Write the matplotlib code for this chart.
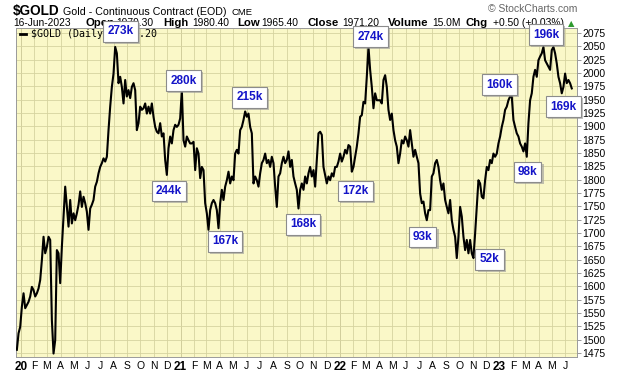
import numpy as np
import pandas as pd
import matplotlib
matplotlib.use('Agg')
import matplotlib.pyplot as plt
import matplotlib.patheffects as pe

plt.rcParams['font.family'] = ['Liberation Sans', 'DejaVu Sans']

# daily close readings, late Dec 2019 .. 16 Jun 2023 (evenly spaced samples)
prices_dec19_jan21 = [
    1481, 1512, 1524, 1562, 1587, 1559, 1565, 1571, 1581, 1599, 1593, 1581, 1587, 1596,
    1612, 1649, 1693, 1662, 1674, 1693, 1687, 1537, 1474, 1499, 1668, 1662, 1606, 1674,
    1731, 1787, 1749, 1712, 1762, 1718, 1737, 1724, 1737, 1753, 1778, 1749, 1768, 1756,
    1740, 1706, 1746, 1753, 1762, 1787, 1796, 1812, 1824, 1831, 1840, 1834, 1843, 1893,
    1937, 1974, 1999, 2049, 2037, 1981, 1993, 1974, 1943, 1987, 1956, 1968, 1953, 1974,
    1981, 1968, 1893, 1906, 1937, 1931, 1934, 1943, 1924, 1937, 1924, 1943, 1918, 1899,
    1890, 1887, 1906, 1881, 1887, 1837, 1809, 1859, 1881, 1868, 1893, 1903, 1899, 1903,
    1915, 1968, 1874, 1862, 1881, 1874,
]
prices_jan21_apr22 = [
    1868, 1868, 1871, 1818, 1859, 1849, 1803, 1824, 1818, 1756, 1737, 1706, 1743, 1756,
    1762, 1756, 1743, 1709, 1756, 1781, 1762, 1787, 1799, 1815, 1793, 1806, 1799, 1849,
    1856, 1849, 1893, 1899, 1912, 1928, 1918, 1924, 1899, 1887, 1793, 1806, 1799, 1787,
    1812, 1831, 1837, 1849, 1831, 1837, 1824, 1843, 1831, 1787, 1749, 1806, 1812, 1831,
    1843, 1831, 1837, 1853, 1824, 1837, 1806, 1793, 1781, 1746, 1781, 1793, 1781, 1806,
    1793, 1812, 1824, 1806, 1818, 1787, 1837, 1887, 1890, 1884, 1824, 1809, 1793, 1806,
    1799, 1812, 1806, 1824, 1824, 1834, 1849, 1834, 1843, 1856, 1849, 1865, 1862, 1815,
    1824, 1843, 1862, 1887, 1918, 1921, 1946, 1943, 1993, 2049, 2006, 1974, 1934, 1962,
    1949, 1949,
]
prices_apr22_jun23 = [
    1949, 1943, 1987, 1996, 1974, 1931, 1912, 1924, 1893, 1874, 1862, 1831, 1849, 1874,
    1868, 1881, 1874, 1862, 1893, 1868, 1843, 1856, 1843, 1831, 1774, 1756, 1759, 1737,
    1724, 1743, 1743, 1806, 1812, 1831, 1837, 1824, 1799, 1781, 1793, 1762, 1749, 1737,
    1762, 1724, 1706, 1693, 1653, 1693, 1749, 1731, 1693, 1668, 1687, 1662, 1687, 1662,
    1653, 1699, 1749, 1799, 1793, 1768, 1765, 1799, 1824, 1818, 1837, 1831, 1849, 1843,
    1849, 1868, 1881, 1899, 1912, 1931, 1937, 1949, 1956, 1956, 1912, 1899, 1887, 1881,
    1868, 1862, 1853, 1868, 1843, 1906, 1949, 1962, 1993, 2006, 1993, 2024, 2031, 2037,
    2049, 2024, 2018, 2012, 2006, 2043, 2049, 2037, 2018, 1993, 1981, 1962, 1974, 1999,
    1981, 1987, 1981, 1971.2,
]
first_day = '2019-12-23'
last_day = '2023-06-16'

# volume call-outs (left to right)
volume_notes = ['273k', '280k', '244k', '167k', '215k', '168k', '172k',
                '274k', '93k', '52k', '160k', '98k', '196k', '169k']

y_ticks = list(range(1475, 2076, 25))
month_letters = ['J', 'F', 'M', 'A', 'M', 'J', 'J', 'A', 'S', 'O', 'N', 'D']

quote_date = '16-Jun-2023'
q_open, q_high, q_low, q_close = '1979.30', '1980.40', '1965.40', '1971.20'
q_volume, q_chg = '15.0M', '+0.50 (+0.03%)'

prices = prices_dec19_jan21 + prices_jan21_apr22 + prices_apr22_jun23
dates = pd.date_range(first_day, last_day, periods=len(prices))

W, H = 620, 376
fig = plt.figure(figsize=(W / 100, H / 100), dpi=100)
ax = fig.add_axes([16 / W, 1 - 357 / H, (577 - 16) / W, (357 - 28) / H])
ax.set_facecolor('#faf8c8')

ax.plot(dates, prices, color='black', lw=1.5, solid_joinstyle='round', zorder=3)

ax.set_xlim(pd.Timestamp('2019-12-21'), pd.Timestamp('2023-06-28'))
ax.set_ylim(1467.5, 2084.5)

months = pd.date_range('2020-01-01', '2023-06-01', freq='MS')
ax.set_xticks(months)
ax.set_xticklabels([str(m.year)[2:] if m.month == 1 else month_letters[m.month - 1]
                    for m in months])
for lab, m in zip(ax.get_xticklabels(), months):
    if m.month == 1:
        lab.set_fontweight('bold')
        lab.set_fontsize(8.5)
    else:
        lab.set_fontsize(7.5)
ax.tick_params(axis='x', length=0, pad=3)

ax.yaxis.tick_right()
ax.set_yticks(y_ticks)
ax.tick_params(axis='y', length=3, width=0.6, color='#888888', labelsize=7.5, pad=1)

ax.grid(True, color='#d6d3a0', lw=0.6, zorder=0)
for m in months[months.month == 1]:
    ax.axvline(m, color='#bab686', lw=0.7, zorder=1)
for sp in ax.spines.values():
    sp.set_color('#9a9a9a')
    sp.set_linewidth(0.7)


def put(x, y, s, **kw):
    return fig.text(x / W, 1 - y / H, s, **kw)


# header
put(13, 15, '$GOLD', fontsize=9.8, fontweight='bold', va='baseline')
put(63, 15, 'Gold - Continuous Contract (EOD)', fontsize=7.7, va='baseline')
put(232, 15, 'CME', fontsize=6.8, va='baseline')
put(577, 12, '\u00a9 StockCharts.com', fontsize=7.5, color='#666666', va='baseline', ha='right')

row = [(13, quote_date, False), (85, 'Open', True), (116, q_open, False),
       (163, 'High', True), (192, q_high, False), (237, 'Low', True),
       (261, q_low, False), (307, 'Close', True), (342, q_close, False),
       (388, 'Volume', True), (432, q_volume, False), (465, 'Chg', True),
       (493, q_chg, False)]
for x, s, b in row:
    put(x, 26, s, fontsize=8.2 if b else 7.4, fontweight='bold' if b else 'normal',
        va='baseline')
put(568, 26, '\u25b2', fontsize=6, color='#2e9a2e', va='baseline', family='DejaVu Sans')

# legend
fig.add_artist(plt.Line2D([20 / W, 26 / W], [1 - 33.5 / H] * 2, color='black', lw=2))
put(31, 37, '$GOLD (Daily) ' + q_close, fontsize=7.2, family='DejaVu Sans Mono',
    va='baseline')

# volume boxes
box_pos = [(120.5, 31.5), (183.5, 80.5), (169, 191), (225, 241.5), (249.5, 97.5),
           (303, 224.5), (355.5, 191), (370.5, 36.5), (422.5, 237), (489.5, 259.5),
           (499.5, 84.5), (527.5, 172), (546, 34.5), (563.5, 106.5)]
for (x, y), s in zip(box_pos, volume_notes):
    t = put(x, y, s, fontsize=8.5, fontweight='bold', color='#1414c8', ha='center',
            va='center', zorder=10,
            bbox=dict(boxstyle='square,pad=0.35', fc='white', ec='#8c8c8c', lw=0.8))
    t.get_bbox_patch().set_path_effects([
        pe.SimplePatchShadow(offset=(1.5, -1.5), shadow_rgbFace='#9a9a9a', alpha=0.6),
        pe.Normal()])

fig.savefig('out.png', dpi=100, facecolor='white')
